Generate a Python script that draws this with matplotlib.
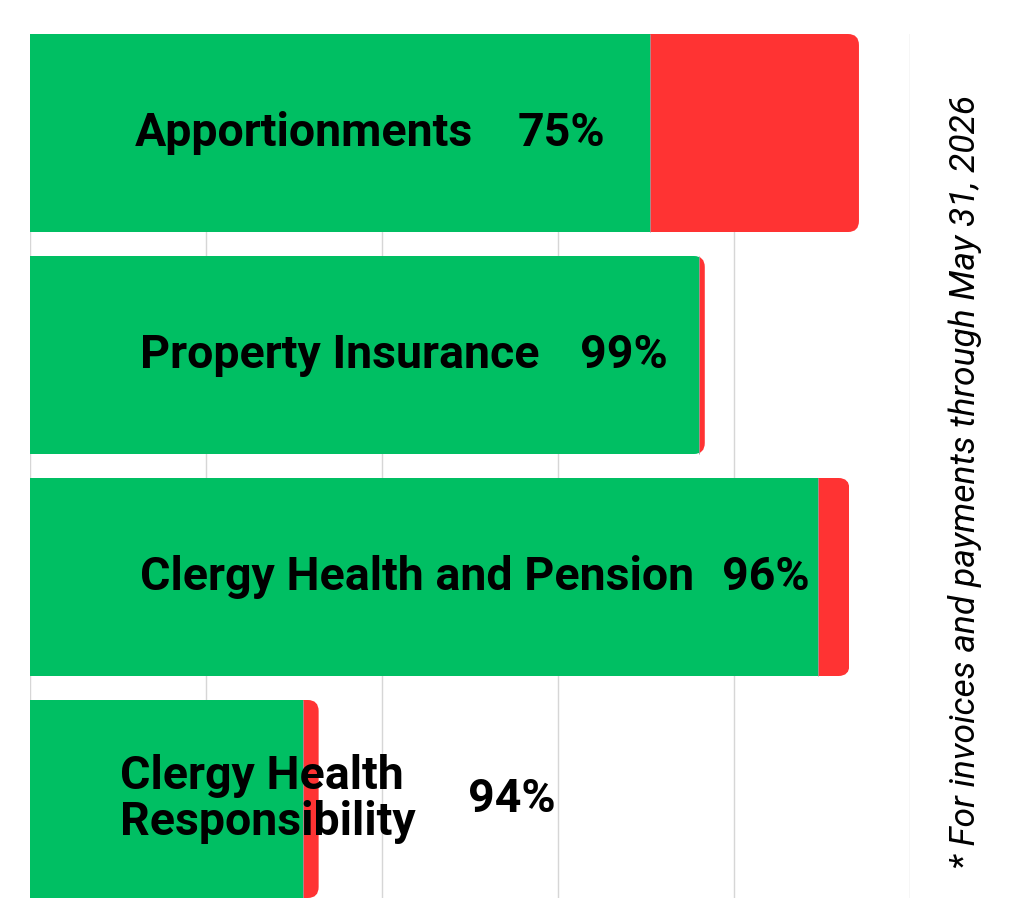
import matplotlib
matplotlib.use("Agg")
import matplotlib.pyplot as plt
from matplotlib.patches import FancyBboxPatch

# ---- data ----
categories = ["Apportionments", "Property Insurance", "Clergy Health and Pension",
              "Clergy Health\nResponsibility"]
paid = [3.52, 3.80, 4.48, 1.55]
unpaid = [1.19, 0.034, 0.176, 0.09]
pct_labels = ["75%", "99%", "96%", "94%"]
footnote = "* For invoices and payments through May 31, 2026"

# ---- style / layout ----
GREEN = "#00BF63"
RED = "#FF3333"
label_x = [0.597, 0.625, 0.625, 0.511]
pct_x = [2.773, 3.125, 3.93, 2.489]
bar_h = 0.892
FS = 33.5

plt.rcParams['font.family'] = ['Roboto', 'DejaVu Sans']

fig = plt.figure(figsize=(10.15, 9.19), dpi=100)
ax = fig.add_axes([30/1015, 21/919, 880/1015, 864/919])

ypos = list(range(len(categories)))
gb = ax.barh(ypos, paid, height=bar_h, color=GREEN, zorder=2)
rb = ax.barh(ypos, unpaid, left=paid, height=bar_h, color=RED, zorder=2)

ax.set_xlim(0, 5)
ax.set_ylim(len(categories) - 1 + bar_h/2, -bar_h/2)

px_x = 880 / 5.0
px_y = 864 / (len(categories) - 1 + bar_h)
r_px = 11
aspect = px_x / px_y
for i, y in enumerate(ypos):
    total = paid[i] + unpaid[i]
    clip = FancyBboxPatch((-1, y - bar_h/2), total + 1, bar_h,
                          boxstyle=f"round,pad=0,rounding_size={r_px/px_x}",
                          mutation_aspect=aspect, transform=ax.transData)
    gb[i].set_clip_path(clip)
    rb[i].set_clip_path(clip)
    ax.vlines(paid[i], y - bar_h/2, y + bar_h/2, color="#9a9a9a", lw=0.6, zorder=3)

for i, y in enumerate(ypos):
    ax.text(label_x[i], y, categories[i], fontsize=FS, fontweight='bold',
            ha='left', va='center', color='black', linespacing=1.05, zorder=5)
    ax.text(pct_x[i], y, pct_labels[i], fontsize=FS, fontweight='bold',
            ha='left', va='center', color='black', zorder=5)

ax.set_xticks([0, 1, 2, 3, 4, 5])
ax.grid(axis='x', color='#d6d6d6', lw=1.0, zorder=0)
ax.set_axisbelow(True)
ax.tick_params(left=False, bottom=False, labelleft=False, labelbottom=False)
for s in ax.spines.values():
    s.set_visible(False)

fig.text(965/1015, 1 - 482/919, footnote, rotation=90, fontsize=25.5, style='italic',
         ha='center', va='center', color='black')

fig.savefig("out.png", dpi=100, facecolor='white')
